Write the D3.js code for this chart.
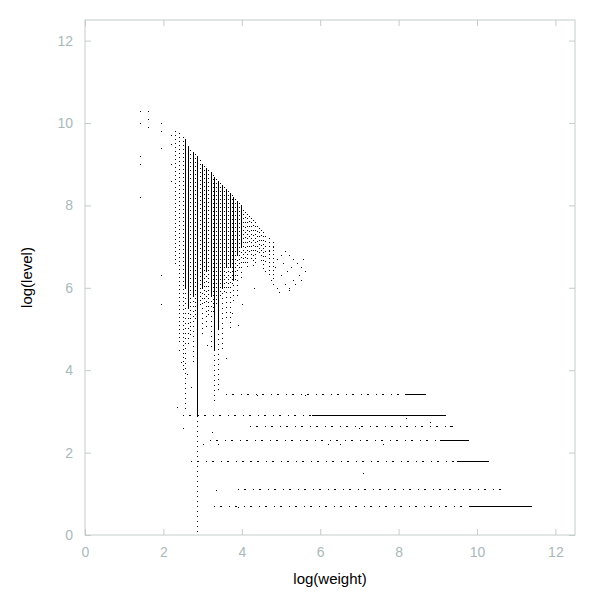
<!DOCTYPE html>
<html><head><meta charset="utf-8">
<script src="https://cdn.jsdelivr.net/npm/d3@7"></script>
<style>body{margin:0;background:#fff}</style>
</head><body><div id="chart"></div>
<script>
// tick values
const xTicks = [0, 2, 4, 6, 8, 10, 12];
const yTicks = [0, 2, 4, 6, 8, 10, 12];

// horizontal runs of points: level, where dots start, where solid starts, end
const rowLevel = [3.40, 2.90, 2.64, 2.30, 1.79, 1.10, 0.69];
const rowDotStart = [3.6, 2.5, 4.2, 3.2, 2.7, 3.9, 3.3];
const rowSolidStart = [8.16, 5.8, 9.3, 9.05, 9.5, 10.7, 9.8];
const rowEnd = [8.7, 9.2, 9.4, 9.8, 10.3, 10.7, 11.4];

// vertical runs: x, top, bottom of solid part, bottom of dotted tail
const colX = [2.56, 2.64, 2.77, 2.88, 3.0, 3.1, 3.22, 3.3, 3.4, 3.5, 3.6, 3.7, 3.8, 3.9, 4.0, 4.1, 4.2, 4.3, 4.4, 4.5, 4.6];
const colTop = [9.6, 9.45, 9.3, 9.2, 9.0, 8.9, 8.8, 8.7, 8.6, 8.5, 8.4, 8.3, 8.2, 8.1, 8.0, 7.85, 7.75, 7.65, 7.5, 7.4, 7.25];
const colSolidEnd = [6.0, 5.5, 5.8, 2.9, 6.0, 6.4, 5.8, 4.5, 5.0, 6.0, 6.5, 6.5, 6.2, 6.8, 7.0, 7.85, 7.75, 7.65, 7.5, 7.4, 7.25];
const colTail = [3.0, 4.6, 4.2, 0.0, 4.8, 5.0, 4.5, 3.2, 3.5, 4.5, 5.2, 5.0, 5.6, 5.8, 6.2, 6.5, 6.8, 6.5, 6.8, 6.6, 6.6];

// loose columns of dots
const dotColX = [2.3, 2.4, 2.5, 2.7, 2.83, 2.94, 3.05, 3.16, 3.27, 3.35, 3.45, 3.55, 3.65, 3.75, 3.85, 3.95, 4.05, 4.15, 4.25, 4.35, 4.45, 4.55, 4.7, 4.8];
const dotColTop = [9.8, 9.75, 9.65, 9.35, 9.25, 9.1, 8.95, 8.85, 8.75, 8.65, 8.55, 8.45, 8.35, 8.25, 8.15, 8.05, 7.9, 7.8, 7.7, 7.6, 7.45, 7.35, 7.2, 7.1];
const dotColBottom = [6.5, 4.6, 4.0, 4.8, 5.2, 5.5, 5.6, 5.3, 5.4, 5.6, 5.8, 5.9, 6.0, 6.1, 6.2, 6.4, 6.6, 6.5, 6.7, 6.6, 6.8, 6.4, 6.3, 6.2];

// isolated points
const ptX = [1.4, 1.4, 1.4, 1.4, 1.4, 1.6, 1.6, 1.6, 1.95, 1.95, 1.95, 1.95, 1.95, 2.2, 2.2, 2.2, 2.2,
  4.7, 4.75, 4.8, 4.85, 4.9, 4.9, 4.95, 5.0, 5.0, 5.05, 5.1, 5.1, 5.15, 5.2, 5.2, 5.25, 5.3, 5.3, 5.35, 5.4, 5.45, 5.5, 5.55, 5.6, 5.5, 5.2, 4.8, 4.6,
  2.4, 2.45, 2.6, 2.7, 3.1, 3.3, 3.5, 3.6, 3.75, 3.9, 4.0, 4.3, 2.35, 2.5, 3.25, 3.0, 2.7, 3.35, 3.9, 4.4, 5.6, 6.5, 7.1, 7.6, 8.2, 8.8, 6.2, 7.0, 4.2, 3.4];
const ptY = [10.3, 10.0, 9.2, 9.0, 8.2, 10.3, 10.1, 9.9, 10.0, 9.8, 9.4, 6.3, 5.6, 9.7, 9.5, 9.0, 8.6,
  6.9, 6.2, 7.0, 6.5, 6.0, 6.7, 5.9, 6.8, 6.3, 6.6, 6.9, 6.1, 6.4, 6.0, 6.8, 6.5, 6.7, 6.2, 6.1, 6.6, 6.3, 6.5, 6.7, 6.4, 6.2, 5.95, 6.1, 6.4,
  4.5, 4.2, 3.9, 3.6, 4.6, 4.0, 4.9, 4.3, 5.4, 5.1, 5.6, 6.0, 3.1, 2.6, 2.5, 2.2, 1.8, 1.1, 0.69, 3.4, 3.4, 2.2, 1.5, 2.2, 2.85, 2.75, 2.2, 2.6, 1.79, 2.2];

const width = 600, height = 600;
const margin = {left: 85, right: 25, top: 20, bottom: 65};

const x = d3.scaleLinear().domain([0, 12.5]).range([margin.left, width - margin.right]);
const y = d3.scaleLinear().domain([0, 12.5]).range([height - margin.bottom, margin.top]);

const svg = d3.select('#chart').append('svg')
    .attr('width', width).attr('height', height)
    .style('font-family', 'Liberation Sans, Arial, sans-serif');

const frame = '#c4ccc8';
const tickColor = '#a9b9b9';

// frame
svg.append('rect')
    .attr('x', x(0)).attr('y', y(12.5))
    .attr('width', x(12.5) - x(0)).attr('height', y(0) - y(12.5))
    .attr('fill', 'none').attr('stroke', frame);

// axes with inward ticks
function styleAxis(g) {
  g.select('.domain').remove();
  g.selectAll('line').attr('stroke', frame);
  g.selectAll('text').attr('fill', tickColor).attr('font-size', '14px');
}
svg.append('g').attr('transform', `translate(0,${y(0)})`)
    .call(d3.axisBottom(x).tickValues(xTicks).tickSizeInner(-6).tickPadding(12))
    .call(styleAxis);
svg.append('g').attr('transform', `translate(${x(0)},0)`)
    .call(d3.axisLeft(y).tickValues(yTicks).tickSizeInner(-6).tickPadding(12))
    .call(styleAxis);
svg.append('g').attr('transform', `translate(0,${y(12.5)})`)
    .call(d3.axisTop(x).tickValues(xTicks).tickSizeInner(-6).tickFormat(''))
    .call(styleAxis);
svg.append('g').attr('transform', `translate(${x(12.5)},0)`)
    .call(d3.axisRight(y).tickValues(yTicks).tickSizeInner(-6).tickFormat(''))
    .call(styleAxis);

const marks = svg.append('g').attr('shape-rendering', 'crispEdges').attr('stroke', '#000');

// rows: dotted part then solid part
marks.selectAll('line.rowdot').data(rowLevel).enter().append('line')
    .attr('x1', (d, i) => x(rowDotStart[i])).attr('x2', (d, i) => x(rowSolidStart[i]))
    .attr('y1', d => y(d)).attr('y2', d => y(d))
    .attr('stroke-dasharray', '1,5,2,7');
marks.selectAll('line.rowsolid').data(rowLevel).enter().append('line')
    .attr('x1', (d, i) => x(rowSolidStart[i])).attr('x2', (d, i) => x(rowEnd[i]))
    .attr('y1', d => y(d)).attr('y2', d => y(d));

// columns: solid part then dotted tail
marks.selectAll('line.colsolid').data(colX).enter().append('line')
    .attr('x1', d => x(d)).attr('x2', d => x(d))
    .attr('y1', (d, i) => y(colTop[i])).attr('y2', (d, i) => y(colSolidEnd[i]))
    .attr('stroke-dasharray', (d, i) => i >= 15 ? '1,2' : null);
marks.selectAll('line.coltail').data(colX).enter().append('line')
    .attr('x1', d => x(d)).attr('x2', d => x(d))
    .attr('y1', (d, i) => y(colSolidEnd[i])).attr('y2', (d, i) => y(colTail[i]))
    .attr('stroke-dasharray', '1,4');
marks.selectAll('line.dotcol').data(dotColX).enter().append('line')
    .attr('x1', d => x(d)).attr('x2', d => x(d))
    .attr('y1', (d, i) => y(dotColTop[i])).attr('y2', (d, i) => y(dotColBottom[i]))
    .attr('stroke-dasharray', '1,3');

// points
svg.append('g').selectAll('rect').data(ptX).enter().append('rect')
    .attr('x', d => Math.round(x(d))).attr('y', (d, i) => Math.round(y(ptY[i])))
    .attr('width', 1).attr('height', 1).attr('fill', '#000');

// axis titles
svg.append('text').attr('x', (x(0) + x(12.5)) / 2).attr('y', 584)
    .attr('text-anchor', 'middle').attr('font-size', '15px').text('log(weight)');
svg.append('text').attr('transform', `translate(32,${(y(0) + y(12.5)) / 2}) rotate(-90)`)
    .attr('text-anchor', 'middle').attr('font-size', '15px').text('log(level)');
</script>
</body></html>
